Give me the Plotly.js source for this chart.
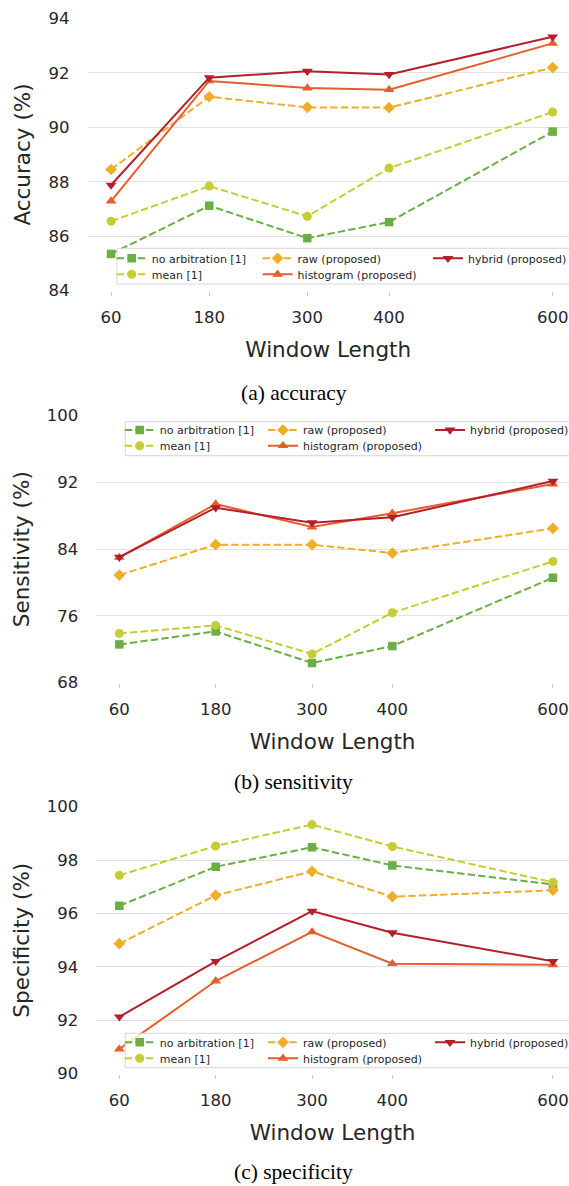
<!DOCTYPE html>
<html>
<head>
<meta charset="utf-8">
<script src="https://cdn.plot.ly/plotly-3.0.1.min.js"></script>
<style>
  html, body { margin: 0; padding: 0; background: #ffffff; overflow: hidden; }
  #chart { width: 569px; height: 1186px; }
</style>
</head>
<body>
<div id="chart"></div>
<script>
// ---------- data ----------
const windowLengths = [60, 180, 300, 400, 600];
const xTickLabels = ['60', '180', '300', '400', '600'];
const seriesNames = ['no arbitration [1]', 'mean [1]', 'raw (proposed)', 'histogram (proposed)', 'hybrid (proposed)'];

const accuracyNoArbitration = [85.35, 87.12, 85.93, 86.52, 89.84];
const accuracyMean          = [86.55, 87.84, 86.73, 88.50, 90.56];
const accuracyRaw           = [88.45, 91.12, 90.73, 90.72, 92.19];
const accuracyHistogram     = [87.29, 91.70, 91.44, 91.38, 93.08];
const accuracyHybrid        = [87.88, 91.82, 92.06, 91.94, 93.32];

const sensitivityNoArbitration = [72.59, 74.15, 70.36, 72.39, 80.58];
const sensitivityMean          = [73.91, 74.87, 71.44, 76.39, 82.54];
const sensitivityRaw           = [80.90, 84.54, 84.54, 83.54, 86.50];
const sensitivityHistogram     = [83.02, 89.41, 86.66, 88.30, 91.81];
const sensitivityHybrid        = [83.05, 88.97, 87.18, 87.82, 92.17];

const specificityNoArbitration = [96.29, 97.75, 98.48, 97.80, 97.09];
const specificityMean          = [97.43, 98.53, 99.33, 98.51, 97.17];
const specificityRaw           = [94.87, 96.68, 97.58, 96.63, 96.87];
const specificityHistogram     = [90.92, 93.47, 95.31, 94.12, 94.08];
const specificityHybrid        = [92.13, 94.21, 96.09, 95.28, 94.21];

const accuracyTicks = [84, 86, 88, 90, 92, 94];
const sensitivityTicks = [68, 76, 84, 92, 100];
const specificityTicks = [90, 92, 94, 96, 98, 100];

const panelYTitles = ['Accuracy (%)', 'Sensitivity (%)', 'Specificity (%)'];
const panelCaptions = ['(a) accuracy', '(b) sensitivity', '(c) specificity'];
const xTitle = 'Window Length';

// ---------- styling ----------
const W = 569, H = 1186;
const FONT = 'DejaVu Sans, sans-serif';
const TXT = '#262626';
const colors = ['#6aae46', '#c6cc33', '#f0ae28', '#e55e2b', '#b41f2b'];
const symbols = ['square', 'circle', 'diamond', 'triangle-up', 'triangle-down'];
const msizes = [8.5, 9, 9, 9.5, 9.5];
const dashes = ['7.4px,3.2px', '7.4px,3.2px', '7.4px,3.2px', 'solid', 'solid'];

const px = x => x / W;
const py = y => 1 - y / H;

const panels = [
  { data: [accuracyNoArbitration, accuracyMean, accuracyRaw, accuracyHistogram, accuracyHybrid],
    ticks: accuracyTicks, range: [84, 94], left: 87.5, top: 18.3, bottom: 290.7,
    legBox: [116.9, 248.3, 284], rows: [258.3, 274.3], cols: [151.7, 297.6, 468], caption: 393 },
  { data: [sensitivityNoArbitration, sensitivityMean, sensitivityRaw, sensitivityHistogram, sensitivityHybrid],
    ticks: sensitivityTicks, range: [68, 100], left: 96.2, top: 415.7, bottom: 682.7,
    legBox: [125.2, 421.7, 455.7], rows: [430, 445.7], cols: [159.7, 303, 470], caption: 782 },
  { data: [specificityNoArbitration, specificityMean, specificityRaw, specificityHistogram, specificityHybrid],
    ticks: specificityTicks, range: [90, 100], left: 96.2, top: 806.7, bottom: 1073.7,
    legBox: [125.2, 1033.3, 1067.7], rows: [1042.3, 1058.3], cols: [159.7, 303, 470], caption: 1172 }
];

// legend cell (col,row) of each series
const cellCol = [0, 0, 1, 1, 2];
const cellRow = [0, 1, 0, 1, 0];

const traces = [];
const layout = {
  width: W, height: H,
  margin: { l: 0, r: 0, t: 0, b: 0, pad: 0, autoexpand: false },
  showlegend: true,
  paper_bgcolor: '#ffffff', plot_bgcolor: '#ffffff',
  font: { family: FONT, color: TXT },
  shapes: [], annotations: []
};

panels.forEach((p, pi) => {
  const ax = pi === 0 ? '' : String(pi + 1);
  const xa = 'x' + ax, ya = 'y' + ax;
  p.data.forEach((vals, si) => {
    const li = pi * 5 + si;
    const legKey = li === 0 ? 'legend' : 'legend' + (li + 1);
    traces.push({
      type: 'scatter', mode: 'lines+markers',
      x: windowLengths, y: vals, name: seriesNames[si],
      xaxis: xa, yaxis: ya, legend: legKey, cliponaxis: false, showlegend: true,
      line: { color: colors[si], width: 2, dash: dashes[si] },
      marker: { symbol: symbols[si], size: msizes[si], color: colors[si], line: { width: 0 } }
    });
    layout[legKey] = {
      x: px(p.cols[cellCol[si]] - 40), xanchor: 'left',
      y: py(p.rows[cellRow[si]]), yanchor: 'middle',
      bgcolor: 'rgba(0,0,0,0)', borderwidth: 0, visible: true,
      font: { family: FONT, size: 11, color: TXT },
      itemwidth: 30
    };
  });
  layout['xaxis' + ax] = {
    domain: [px(p.left), 1], anchor: ya, range: [31.2, 620],
    tickmode: 'array', tickvals: windowLengths, ticktext: xTickLabels,
    ticks: 'outside', ticklen: 4, tickwidth: 1, tickcolor: '#cccccc',
    showgrid: false, zeroline: false, showline: false,
    tickfont: { family: FONT, size: 16.5, color: TXT }, ticklabelstandoff: 7,
    title: { text: xTitle, font: { family: FONT, size: 21.5, color: TXT }, standoff: 16 },
    automargin: false, fixedrange: true
  };
  layout['yaxis' + ax] = {
    domain: [py(p.bottom), py(p.top)], anchor: xa, range: p.range,
    tickmode: 'array', tickvals: p.ticks,
    ticks: '', showgrid: true, gridcolor: '#e1e1e1', gridwidth: 1,
    zeroline: false, showline: false,
    tickfont: { family: FONT, size: 16.5, color: TXT }, ticklabelstandoff: 17,
    title: { text: panelYTitles[pi], font: { family: FONT, size: 21.5, color: TXT }, standoff: 11 },
    automargin: false, fixedrange: true
  };
  layout.shapes.push({
    type: 'rect', xref: 'paper', yref: 'paper', layer: 'above',
    x0: px(p.legBox[0]), x1: px(575), y0: py(p.legBox[2]), y1: py(p.legBox[1]),
    line: { color: '#d6d6d6', width: 1 }, fillcolor: 'rgba(255,255,255,0.8)'
  });
  layout.annotations.push({
    xref: 'paper', yref: 'paper', x: px(293.5), y: py(p.caption),
    xanchor: 'center', yanchor: 'middle', showarrow: false,
    text: panelCaptions[pi],
    font: { family: 'Liberation Serif, Times New Roman, serif', size: 21.5, color: '#000000' }
  });
});

Plotly.newPlot('chart', traces, layout, { displayModeBar: false, staticPlot: true });
</script>
</body>
</html>
